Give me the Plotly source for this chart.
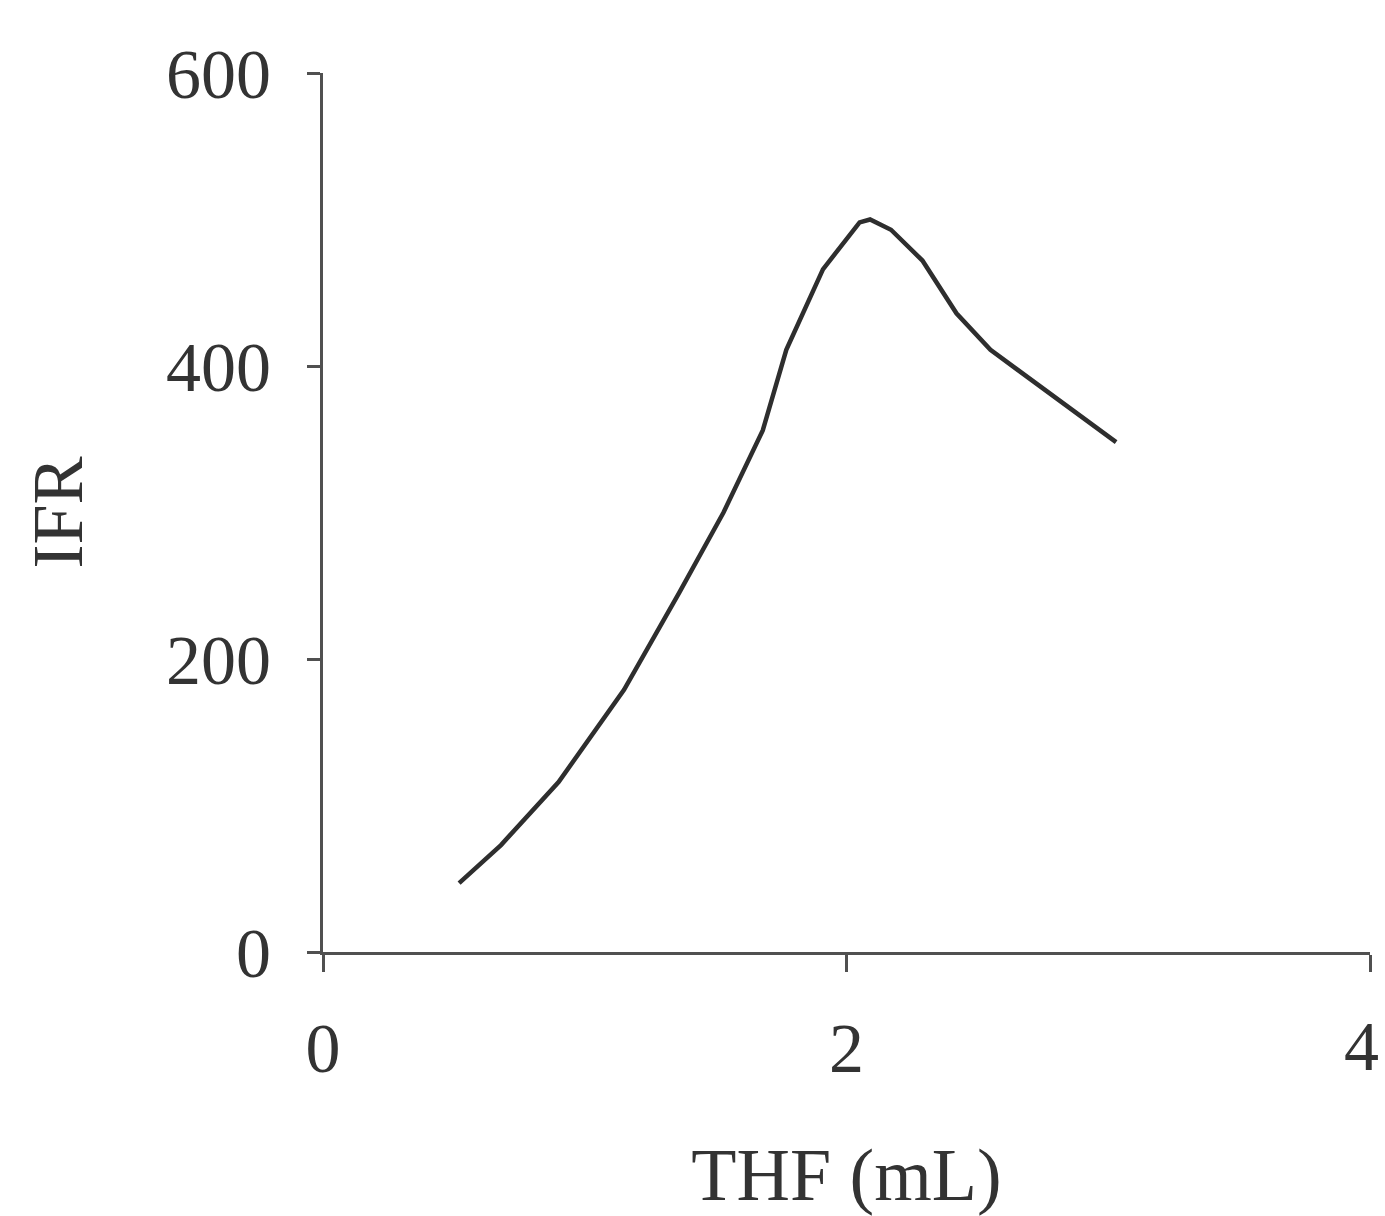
import plotly.graph_objects as go

# THF volume (mL) and the measured IFR response
thf_ml = [0.52, 0.68, 0.90, 1.15, 1.36, 1.53, 1.68, 1.77, 1.91, 2.05, 2.09, 2.17, 2.29, 2.42, 2.55, 3.03]
ifr = [47, 73, 116, 179, 245, 300, 356, 411, 466, 498, 500, 493, 472, 436, 411, 348]

x_ticks = [0, 2, 4]
y_ticks = [0, 200, 400, 600]

FONT = "Liberation Serif"
AXIS_COLOR = "#505050"
TEXT_COLOR = "#333333"
TICK_SIZE = 70

fig = go.Figure()
fig.add_trace(go.Scatter(
    x=thf_ml, y=ifr, mode="lines",
    line=dict(color="#2e2e2e", width=4.5),
    showlegend=False,
))

fig.update_layout(
    width=1385, height=1216,
    margin=dict(l=323, r=15, t=73, b=264),
    paper_bgcolor="white", plot_bgcolor="white",
    font=dict(family=FONT, color=TEXT_COLOR),
)

# the last x label sits at the page edge, so it is placed as a nudged annotation
x_labels = [str(v) for v in x_ticks[:-1]] + [""]

fig.update_xaxes(
    range=[0, 4], tickvals=x_ticks, ticktext=x_labels,
    automargin=False,
    showgrid=False, zeroline=False,
    showline=True, linecolor=AXIS_COLOR, linewidth=3,
    ticks="outside", ticklen=17, tickwidth=3, tickcolor=AXIS_COLOR,
    tickfont=dict(family=FONT, size=TICK_SIZE, color=TEXT_COLOR),
    ticklabelstandoff=16, ticklabeloverflow="allow",
    title=dict(text="THF (mL)", font=dict(family=FONT, size=74, color=TEXT_COLOR), standoff=70),
)

fig.add_annotation(
    x=x_ticks[-1], y=0, xref="x", yref="y",
    text=str(x_ticks[-1]), showarrow=False,
    xanchor="center", yanchor="top", xshift=-9, yshift=-54,
    font=dict(family=FONT, size=TICK_SIZE, color=TEXT_COLOR),
)

fig.update_yaxes(
    range=[0, 600], tickvals=y_ticks, ticktext=[str(v) for v in y_ticks],
    automargin=False,
    showgrid=False, zeroline=False,
    showline=True, linecolor=AXIS_COLOR, linewidth=3,
    ticks="outside", ticklen=13, tickwidth=3, tickcolor=AXIS_COLOR,
    tickfont=dict(family=FONT, size=TICK_SIZE, color=TEXT_COLOR),
    ticklabelstandoff=22,
    title=dict(text="IFR", font=dict(family=FONT, size=72, color=TEXT_COLOR), standoff=60),
)

fig.write_html("out.html")
